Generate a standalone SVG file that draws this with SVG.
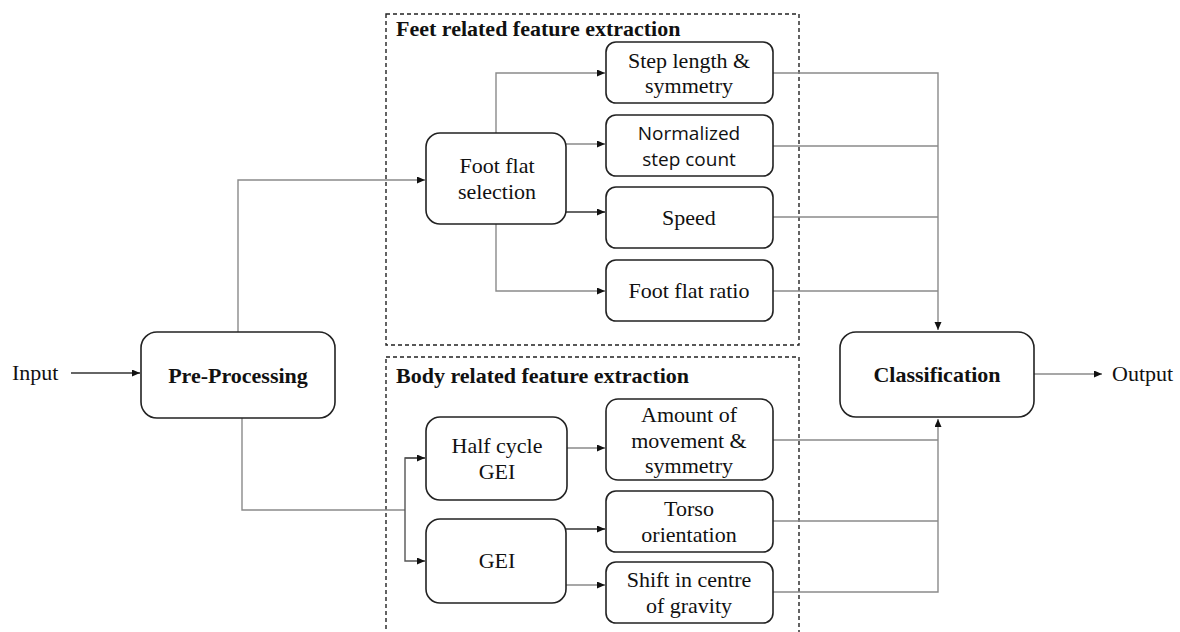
<svg xmlns="http://www.w3.org/2000/svg" width="1180" height="632" viewBox="0 0 1180 632">
<style>
.box{fill:#fff;stroke:#222;stroke-width:1.6}
.grp{fill:none;stroke:#222;stroke-width:1.4;stroke-dasharray:4 3}
.t{font-family:"Liberation Serif","Times New Roman",serif;font-size:22px;fill:#111;text-anchor:middle}
.s{font-family:"Open Sans","Liberation Sans",sans-serif;font-size:19px;fill:#111;text-anchor:middle}
.b{font-family:"Liberation Serif","Times New Roman",serif;font-size:22px;font-weight:bold;fill:#111;text-anchor:middle}
.h{font-family:"Liberation Serif","Times New Roman",serif;font-size:22px;font-weight:bold;fill:#111}
.c{fill:none;stroke:#8a8a8a;stroke-width:1.4}
</style>
<defs>
<marker id="ah" markerUnits="userSpaceOnUse" markerWidth="9" markerHeight="8" refX="8" refY="3.5" orient="auto">
<path d="M0,0 L8,3.5 L0,7 z" fill="#111"/>
</marker>
</defs>
<rect width="1180" height="632" fill="#fff"/>
<g id="feet-group">
<rect class="grp" x="386" y="14" width="413" height="331"/>
<text class="h" x="396" y="36">Feet related feature extraction</text>
</g>
<g id="body-group">
<rect class="grp" x="386" y="357" width="413" height="290"/>
<text class="h" x="396" y="383">Body related feature extraction</text>
</g>
<g id="connectors">
<path class="c" d="M238,332 V180 H425" marker-end="url(#ah)"/>
<path class="c" d="M496,133 V73 H605" marker-end="url(#ah)"/>
<path class="c" d="M566,144 H605" marker-end="url(#ah)"/>
<path class="c" d="M566,212 H605" marker-end="url(#ah)" style="stroke:#333"/>
<path class="c" d="M496,224 V291 H605" marker-end="url(#ah)"/>
<path class="c" d="M773,73 H938 V330" marker-end="url(#ah)"/>
<path class="c" d="M773,146 H938"/>
<path class="c" d="M773,217 H938"/>
<path class="c" d="M773,291 H938"/>
<path class="c" d="M71,373 H140" marker-end="url(#ah)" style="stroke:#333"/>
<path class="c" d="M1034,374 H1102" marker-end="url(#ah)"/>
<path class="c" d="M242,418 V510 H405"/>
<path class="c" d="M425,458 H405 V561 H425" marker-end="url(#ah)" style="stroke:#555"/>
<path class="c" d="M405,458 H425" marker-end="url(#ah)" style="stroke:#555"/>
<path class="c" d="M567,448 H605" marker-end="url(#ah)"/>
<path class="c" d="M566,529 H605" marker-end="url(#ah)" style="stroke:#333"/>
<path class="c" d="M566,585 H605" marker-end="url(#ah)"/>
<path class="c" d="M773,592 H938 V419" marker-end="url(#ah)"/>
<path class="c" d="M773,440 H938"/>
<path class="c" d="M773,521 H938"/>
</g>
<g id="input"><text class="t" x="12" y="380" style="text-anchor:start">Input</text></g>
<g id="output"><text class="t" x="1112" y="381" style="text-anchor:start">Output</text></g>
<g id="pre-processing">
<rect class="box" x="141" y="332" width="194" height="86" rx="16"/>
<text class="b" x="238" y="383">Pre-Processing</text>
</g>
<g id="classification">
<rect class="box" x="840" y="332" width="194" height="85" rx="16"/>
<text class="b" x="937" y="382">Classification</text>
</g>
<g id="foot-flat-selection">
<rect class="box" x="426" y="133" width="140" height="91" rx="14"/>
<text class="t" x="497" y="173">Foot flat</text>
<text class="t" x="497" y="199">selection</text>
</g>
<g id="step-length">
<rect class="box" x="606" y="42" width="167" height="61" rx="10"/>
<text class="t" x="689" y="68">Step length &amp;</text>
<text class="t" x="689" y="93">symmetry</text>
</g>
<g id="normalized-step-count">
<rect class="box" x="606" y="115" width="167" height="61" rx="10"/>
<text class="s" x="689" y="140">Normalized</text>
<text class="s" x="689" y="166">step count</text>
</g>
<g id="speed">
<rect class="box" x="606" y="187" width="167" height="61" rx="10"/>
<text class="t" x="689" y="225">Speed</text>
</g>
<g id="foot-flat-ratio">
<rect class="box" x="606" y="260" width="167" height="61" rx="10"/>
<text class="t" x="689" y="298">Foot flat ratio</text>
</g>
<g id="half-cycle-gei">
<rect class="box" x="426" y="417" width="141" height="83" rx="14"/>
<text class="t" x="497" y="453">Half cycle</text>
<text class="t" x="497" y="479">GEI</text>
</g>
<g id="gei">
<rect class="box" x="426" y="519" width="140" height="84" rx="14"/>
<text class="t" x="497" y="568">GEI</text>
</g>
<g id="amount-of-movement">
<rect class="box" x="606" y="399" width="167" height="81" rx="12"/>
<text class="t" x="689" y="422">Amount of</text>
<text class="t" x="689" y="448">movement &amp;</text>
<text class="t" x="689" y="473">symmetry</text>
</g>
<g id="torso-orientation">
<rect class="box" x="606" y="491" width="167" height="61" rx="10"/>
<text class="t" x="689" y="516">Torso</text>
<text class="t" x="689" y="542">orientation</text>
</g>
<g id="shift-centre-gravity">
<rect class="box" x="606" y="562" width="167" height="61" rx="10"/>
<text class="t" x="689" y="587">Shift in centre</text>
<text class="t" x="689" y="613">of gravity</text>
</g>
</svg>
